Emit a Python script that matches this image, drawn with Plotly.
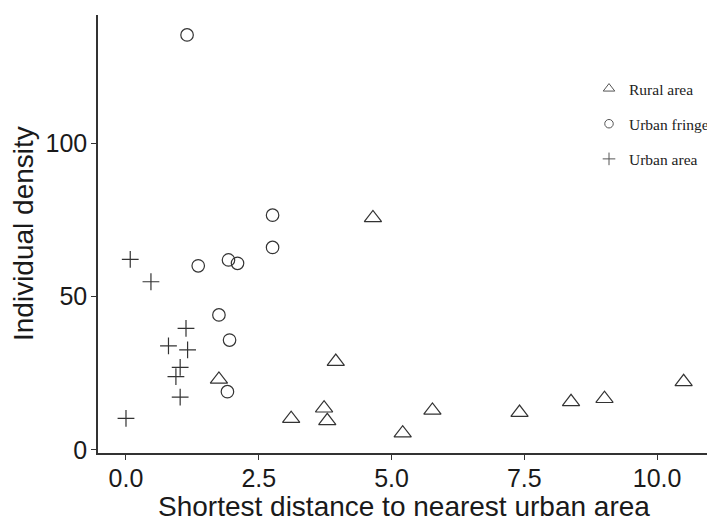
import plotly.graph_objects as go

# Data
rural_x = [1.75, 3.11, 3.73, 3.79, 3.95, 4.65, 5.21, 5.77, 7.41, 8.38, 9.01, 10.50]
rural_y = [23.0, 10.2, 13.6, 9.5, 28.8, 75.6, 5.5, 12.9, 12.2, 15.7, 16.7, 22.2]

fringe_x = [1.15, 2.76, 2.76, 1.36, 1.93, 2.10, 1.75, 1.95, 1.91]
fringe_y = [135.2, 76.5, 66.0, 60.0, 61.9, 60.8, 44.0, 35.8, 19.0]

urban_x = [0.00, 0.08, 0.47, 1.13, 0.80, 1.16, 1.02, 0.94, 1.02]
urban_y = [10.3, 62.1, 54.8, 39.6, 33.9, 32.6, 26.9, 23.9, 17.2]

x_ticks = [0.0, 2.5, 5.0, 7.5, 10.0]
x_tick_labels = ["0.0", "2.5", "5.0", "7.5", "10.0"]
y_ticks = [0, 50, 100]
y_tick_labels = ["0", "50", "100"]

names = ["Rural area", "Urban fringe", "Urban area"]
x_title = "Shortest distance to nearest urban area"
y_title = "Individual density"

MC = "#333333"
W, H = 707, 516
# desired plot area in screen pixels
PL, PR, PT, PB = 98, 707, 15, 453
L, T = PL, PT
R = W - PR
B = H - PB
PW, PH = W - L - R, H - T - B


def px_x(sx):
    return (sx - PL) / PW


def px_y(sy):
    return (PB - sy) / PH


fig = go.Figure()

series = [
    (rural_x, rural_y, "triangle-up-open", 15, names[0]),
    (fringe_x, fringe_y, "circle-open", 12.5, names[1]),
    (urban_x, urban_y, "cross-thin-open", 12, names[2]),
]
legend_sizes = [10, 8.5, 9]

for (xs, ys, sym, sz, nm), lsz in zip(series, legend_sizes):
    fig.add_trace(go.Scatter(
        x=xs, y=ys, mode="markers", name=nm, showlegend=False,
        marker=dict(symbol=sym, size=sz, color=MC, line=dict(color=MC, width=1.2)),
    ))
    fig.add_trace(go.Scatter(
        x=[None], y=[None], mode="markers", name=nm, showlegend=True,
        legendgroup=nm,
        marker=dict(symbol=sym, size=lsz, color="#555555", line=dict(color="#555555", width=1)),
    ))

TITLE_FONT = dict(family="Liberation Sans, Arial, sans-serif", size=28, color="#1a1a1a")

fig.update_layout(
    width=W, height=H,
    margin=dict(l=L, r=R, t=T, b=B, pad=0, autoexpand=False),
    plot_bgcolor="white", paper_bgcolor="white",
    font=dict(family="Liberation Sans, Arial, sans-serif", color="#1a1a1a"),
    legend=dict(
        x=px_x(589), y=px_y(72), xanchor="left", yanchor="top",
        font=dict(family="Liberation Serif, Times New Roman, serif", size=15.5, color="#222222"),
        bgcolor="rgba(0,0,0,0)", tracegroupgap=12, itemwidth=30,
    ),
    xaxis=dict(
        range=[-0.527, 10.94], showgrid=False, zeroline=False, automargin=False,
        showline=True, linecolor="#333333", linewidth=1.5,
        ticks="outside", ticklen=5, tickcolor="#333333", tickwidth=1.2,
        tickvals=x_ticks, ticktext=x_tick_labels, ticklabelstandoff=-3,
        tickfont=dict(size=25, color="#1a1a1a"),
    ),
    yaxis=dict(
        range=[-0.98, 141.7], showgrid=False, zeroline=False, automargin=False,
        showline=True, linecolor="#333333", linewidth=1.5,
        ticks="outside", ticklen=5, tickcolor="#333333", tickwidth=1.2,
        tickvals=y_ticks, ticktext=y_tick_labels, ticklabelstandoff=-1,
        tickfont=dict(size=25, color="#1a1a1a"),
    ),
    annotations=[
        dict(text=x_title, xref="paper", yref="paper",
             x=px_x(404), y=px_y(506),
             xanchor="center", yanchor="middle", showarrow=False, font=TITLE_FONT),
        dict(text=y_title, xref="paper", yref="paper", textangle=-90,
             x=px_x(23), y=px_y(234),
             xanchor="center", yanchor="middle", showarrow=False, font=TITLE_FONT),
    ],
)

fig.write_html(
    "out.html",
    config={"displayModeBar": False},
    post_script="document.body.style.margin='0';document.body.style.overflow='hidden';",
)
